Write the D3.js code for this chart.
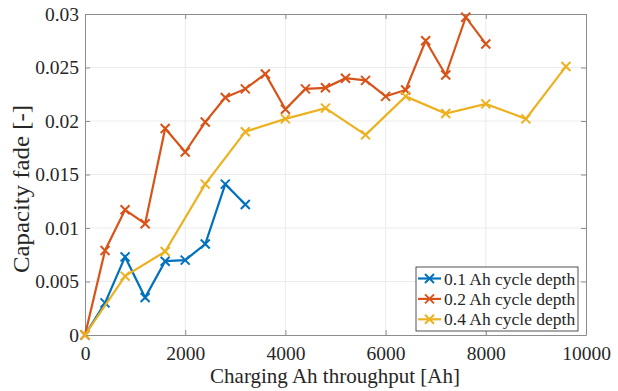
<!DOCTYPE html>
<html>
<head>
<script src="https://d3js.org/d3.v7.min.js"></script>
<style>
  body { margin: 0; background: #fff; }
  text { font-family: "Liberation Serif", "Times New Roman", serif; fill: #262626; }
</style>
</head>
<body>
<div id="chart"></div>
<script>
// charging Ah throughput per series
const x01 = [0, 400, 800, 1200, 1600, 2000, 2400, 2800, 3200];
const y01 = [0, 0.0030, 0.0073, 0.0035, 0.0069, 0.0070, 0.0085, 0.0141, 0.0122];

const x02 = [0, 400, 800, 1200, 1600, 2000, 2400, 2800, 3200, 3600, 4000,
             4400, 4800, 5200, 5600, 6000, 6400, 6800, 7200, 7600, 8000];
const y02 = [0, 0.0079, 0.0117, 0.0104, 0.0193, 0.0171, 0.0199, 0.0222, 0.0230, 0.0244, 0.0211,
             0.0230, 0.0231, 0.0240, 0.0238, 0.0223, 0.0229, 0.0275, 0.0243, 0.0297, 0.0272];

const x04 = [0, 800, 1600, 2400, 3200, 4000, 4800, 5600, 6400, 7200, 8000, 8800, 9600];
const y04 = [0, 0.0055, 0.0078, 0.0141, 0.0190, 0.0202, 0.0212, 0.0187, 0.0223, 0.0207, 0.0216, 0.0202, 0.0251];

const seriesNames = ["0.1 Ah cycle depth", "0.2 Ah cycle depth", "0.4 Ah cycle depth"];
const colors = ["#0072BD", "#D95319", "#EDB120"];
const xTicks = [0, 2000, 4000, 6000, 8000, 10000];
const yTicks = [0, 0.005, 0.01, 0.015, 0.02, 0.025, 0.03];

const W = 618, H = 391;
const margin = { top: 14, right: 32, bottom: 56, left: 85 };
const width = W - margin.left - margin.right;
const height = H - margin.top - margin.bottom;

const svg = d3.select("#chart").append("svg").attr("width", W).attr("height", H);
const g = svg.append("g").attr("transform", `translate(${margin.left},${margin.top})`);

const x = d3.scaleLinear().domain([0, 10000]).range([0, width]);
const y = d3.scaleLinear().domain([0, 0.03]).range([height, 0]);

// grid
g.append("g").selectAll("line").data(xTicks.slice(1, -1)).join("line")
  .attr("x1", d => x(d)).attr("x2", d => x(d)).attr("y1", 0).attr("y2", height)
  .attr("stroke", "#e6e6e6").attr("stroke-width", 0.8);
g.append("g").selectAll("line").data(yTicks.slice(1, -1)).join("line")
  .attr("y1", d => y(d)).attr("y2", d => y(d)).attr("x1", 0).attr("x2", width)
  .attr("stroke", "#e6e6e6").attr("stroke-width", 0.8);

// axes
const fmtY = d => d === 0 ? "0" : String(+d.toFixed(3));
const axB = g.append("g").attr("transform", `translate(0,${height})`)
  .call(d3.axisBottom(x).tickValues(xTicks).tickSizeInner(-5).tickSizeOuter(0).tickPadding(11).tickFormat(d3.format("d")));
const axL = g.append("g")
  .call(d3.axisLeft(y).tickValues(yTicks).tickSizeInner(-5).tickSizeOuter(0).tickPadding(6).tickFormat(fmtY));
const axT = g.append("g")
  .call(d3.axisTop(x).tickValues(xTicks).tickSizeInner(-5).tickSizeOuter(0).tickFormat(""));
const axR = g.append("g").attr("transform", `translate(${width},0)`)
  .call(d3.axisRight(y).tickValues(yTicks).tickSizeInner(-5).tickSizeOuter(0).tickFormat(""));
[axB, axL, axT, axR].forEach(a => {
  a.select(".domain").attr("stroke", "#8c8c8c");
  a.selectAll(".tick line").attr("stroke", "#8c8c8c");
  a.selectAll("text").attr("font-size", 19.5).attr("fill", "#262626")
    .attr("font-family", "Liberation Serif");
});

// series
const series = [
  { xs: x01, ys: y01 },
  { xs: x02, ys: y02 },
  { xs: x04, ys: y04 }
];
const line = d3.line().x(d => x(d[0])).y(d => y(d[1]));
const cross = (sel, s) => sel.append("path")
  .attr("d", `M${-s},${-s}L${s},${s}M${-s},${s}L${s},${-s}`);

series.forEach((s, i) => {
  const pts = s.xs.map((v, k) => [v, s.ys[k]]);
  g.append("path").datum(pts).attr("d", line)
    .attr("fill", "none").attr("stroke", colors[i]).attr("stroke-width", 2.2);
  g.append("g").selectAll("g").data(pts).join("g")
    .attr("transform", d => `translate(${x(d[0])},${y(d[1])})`)
    .each(function () { cross(d3.select(this), 4.5); })
    .selectAll("path").attr("stroke", colors[i]).attr("stroke-width", 2).attr("fill", "none");
});

// legend
const lg = svg.append("g").attr("transform", "translate(416,267)");
lg.append("rect").attr("width", 162).attr("height", 64)
  .attr("fill", "#fff").attr("stroke", "#262626").attr("stroke-width", 0.8);
seriesNames.forEach((n, i) => {
  const yy = 11.5 + i * 20.4;
  lg.append("line").attr("x1", 2).attr("x2", 25).attr("y1", yy).attr("y2", yy)
    .attr("stroke", colors[i]).attr("stroke-width", 2.2);
  const m = lg.append("g").attr("transform", `translate(13.5,${yy})`);
  cross(m, 4.5).attr("stroke", colors[i]).attr("stroke-width", 2);
  lg.append("text").attr("x", 28).attr("y", yy + 6).attr("font-size", 17.5).text(n);
});

// axis titles
svg.append("text").attr("x", 335).attr("y", 383)
  .attr("text-anchor", "middle").attr("font-size", 21).text("Charging Ah throughput [Ah]");
svg.append("text").attr("transform", "translate(29,189) rotate(-90)")
  .attr("text-anchor", "middle").attr("font-size", 22.5)
  .attr("textLength", 168).attr("lengthAdjust", "spacingAndGlyphs")
  .text("Capacity fade [-]");
</script>
</body>
</html>
